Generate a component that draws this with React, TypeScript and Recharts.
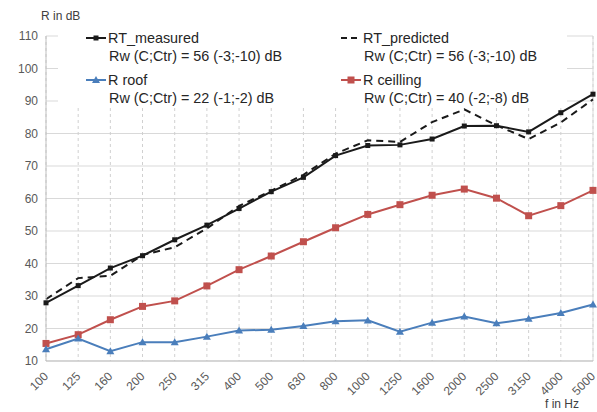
import { CartesianGrid, Line, LineChart, ReferenceLine, XAxis, YAxis } from 'recharts';

const freqs = ['100', '125', '160', '200', '250', '315', '400', '500', '630', '800', '1000', '1250', '1600', '2000', '2500', '3150', '4000', '5000'];
const rtMeasured = [27.9, 33.2, 38.6, 42.4, 47.3, 51.8, 56.9, 62.1, 66.5, 73.2, 76.3, 76.5, 78.3, 82.3, 82.4, 80.5, 86.4, 92.1];
const rtPredicted = [29, 35.5, 36.2, 42.6, 45, 50.8, 57.7, 62.4, 67.3, 73.8, 77.9, 77.4, 83.5, 87.4, 82.5, 78.3, 83.4, 90.5];
const rRoof = [13.6, 16.9, 13, 15.8, 15.8, 17.5, 19.4, 19.6, 20.8, 22.2, 22.5, 19, 21.8, 23.7, 21.6, 23, 24.8, 27.4];
const rCeiling = [15.4, 18.1, 22.7, 26.8, 28.5, 33.1, 38.1, 42.3, 46.7, 51, 55.1, 58.1, 61, 62.9, 60.1, 54.7, 57.8, 62.5];
const yTicks = [10, 20, 30, 40, 50, 60, 70, 80, 90, 100, 110];

const data = freqs.map((f, i) => ({
  f,
  measured: rtMeasured[i],
  predicted: rtPredicted[i],
  roof: rRoof[i],
  ceiling: rCeiling[i],
}));

const FONT = '"Liberation Sans", Arial, sans-serif';
const BLACK = '#1a1a1a';
const RED = '#c0504d';
const BLUE = '#4a7ebb';

const XTick = ({ x, y, payload }: any) => (
  <text
    x={x + 3}
    y={y + 8}
    textAnchor="end"
    fontSize={12}
    fill="#595959"
    fontFamily={FONT}
    transform={`rotate(-45 ${x + 3} ${y + 8})`}
  >
    {payload.value}
  </text>
);

const Triangle = ({ cx, cy }: any) => (
  <polygon points={`${cx},${cy - 4} ${cx + 4},${cy + 3} ${cx - 4},${cy + 3}`} fill={BLUE} />
);
const RedSquare = ({ cx, cy }: any) => <rect x={cx - 3.5} y={cy - 3.5} width={7} height={7} fill={RED} />;
const BlackSquare = ({ cx, cy }: any) => <rect x={cx - 2.5} y={cy - 2.5} width={5} height={5} fill={BLACK} />;

function Marker({ kind }: { kind: string }) {
  return (
    <svg width={22} height={10} style={{ display: 'block' }}>
      {kind === 'measured' && (
        <>
          <line x1={1} y1={5} x2={21} y2={5} stroke={BLACK} strokeWidth={2} />
          <rect x={8.5} y={2.5} width={5} height={5} fill={BLACK} />
        </>
      )}
      {kind === 'predicted' && <line x1={1} y1={5} x2={21} y2={5} stroke={BLACK} strokeWidth={2} strokeDasharray="6 4" />}
      {kind === 'roof' && (
        <>
          <line x1={1} y1={5} x2={21} y2={5} stroke={BLUE} strokeWidth={2} />
          <polygon points="11,1 15,8 7,8" fill={BLUE} />
        </>
      )}
      {kind === 'ceiling' && (
        <>
          <line x1={1} y1={5} x2={21} y2={5} stroke={RED} strokeWidth={2} />
          <rect x={7.5} y={1.5} width={7} height={7} fill={RED} />
        </>
      )}
    </svg>
  );
}

const legendItems = [
  { kind: 'measured', name: 'RT_measured', rw: 'Rw (C;Ctr) = 56 (-3;-10) dB', left: 27, top: 0 },
  { kind: 'predicted', name: 'RT_predicted', rw: 'Rw (C;Ctr) = 56 (-3;-10) dB', left: 282, top: 0 },
  { kind: 'roof', name: 'R roof', rw: 'Rw (C;Ctr) = 22 (-1;-2) dB', left: 27, top: 42 },
  { kind: 'ceiling', name: 'R ceilling', rw: 'Rw (C;Ctr) = 40 (-2;-8) dB', left: 282, top: 42 },
];

const ChartLegend = () => (
  <div style={{ position: 'absolute', left: 58, top: 28, width: 509, height: 80, background: '#fff', fontFamily: FONT, fontSize: 14.4, color: '#262626' }}>
    {legendItems.map((it) => (
      <div key={it.kind} style={{ position: 'absolute', left: it.left, top: it.top + 1, lineHeight: '18px' }}>
        <div style={{ display: 'flex', alignItems: 'center' }}>
          <Marker kind={it.kind} />
          <span style={{ marginLeft: 1 }}>{it.name}</span>
        </div>
        <div style={{ marginLeft: 24 }}>{it.rw}</div>
      </div>
    ))}
  </div>
);

export default function App() {
  return (
    <div style={{ position: 'fixed', left: 0, top: 0, width: 597, height: 412, background: '#fff' }}>
      <LineChart width={597} height={412} data={data} margin={{ top: 36, right: 4, bottom: 0, left: 0 }}>
        <CartesianGrid vertical={false} stroke="#d9d9d9" />
        <CartesianGrid horizontal={false} stroke="#d0d0d0" strokeDasharray="3 3" />
        <ReferenceLine x="5000" stroke="#d9d9d9" />
        <XAxis
          dataKey="f"
          interval={0}
          height={51}
          tick={<XTick />}
          tickLine={false}
          axisLine={{ stroke: '#bfbfbf' }}
          padding={{ left: 0, right: 0 }}
        />
        <YAxis
          domain={[10, 110]}
          ticks={yTicks}
          width={46}
          tickLine={false}
          axisLine={{ stroke: '#bfbfbf' }}
          tick={{ fontSize: 12, fill: '#595959', fontFamily: FONT }}
        />
        <Line dataKey="ceiling" stroke={RED} strokeWidth={2} dot={<RedSquare />} isAnimationActive={false} />
        <Line dataKey="roof" stroke={BLUE} strokeWidth={2} dot={<Triangle />} isAnimationActive={false} />
        <Line dataKey="predicted" stroke={BLACK} strokeWidth={2} strokeDasharray="7 5" dot={false} isAnimationActive={false} />
        <Line dataKey="measured" stroke={BLACK} strokeWidth={2} dot={<BlackSquare />} isAnimationActive={false} />
      </LineChart>
      <ChartLegend />
      <div style={{ position: 'absolute', left: 41, top: 9, fontFamily: FONT, fontSize: 12, color: '#404040' }}>R in dB</div>
      <div style={{ position: 'absolute', left: 545, top: 397, fontFamily: FONT, fontSize: 12, color: '#404040' }}>f in Hz</div>
    </div>
  );
}
